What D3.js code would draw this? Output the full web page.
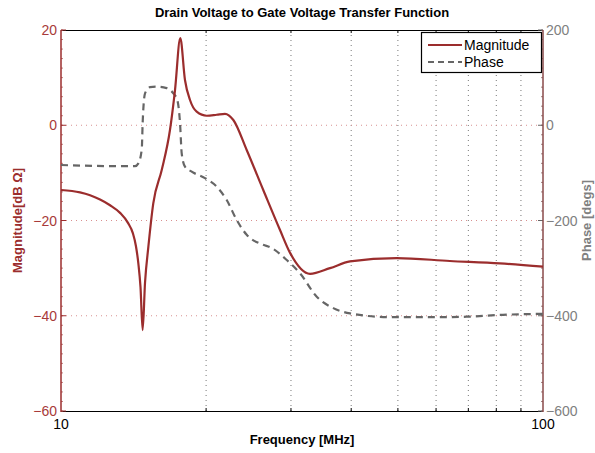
<!DOCTYPE html>
<html>
<head>
<meta charset="utf-8">
<script src="https://cdn.jsdelivr.net/npm/d3@7"></script>
<style>
  body { margin: 0; background: #fff; }
  svg text { font-family: "Liberation Sans", Arial, sans-serif; }
</style>
</head>
<body>
<svg id="chart" width="595" height="453"></svg>
<script>

// Magnitude trace (frequency in MHz, dB Ohm)
const magFreq = [10, 10.95, 11.49, 12.05, 12.64, 13.26, 13.77, 14.1, 14.3, 14.47, 14.62, 14.77, 14.94, 15.18,
    15.54, 16.18, 16.83, 17.24, 17.68, 18.08, 18.52, 19.12, 20.06, 21.04, 21.89, 22.78, 24.28, 26.28,
    28.47, 29.87, 32.86, 36.15, 39.78, 49.7, 64.1, 81.4, 100];
const magDb = [-13.6, -14.1, -14.7, -15.6, -16.8, -18.4, -20.5, -22.7, -25.3, -29, -34, -43, -33, -25.5,
    -16.4, -9.4, -1, 7.4, 18.3, 9.5, 5.3, 2.85, 2, 2.2, 2.4, 1.1, -5.2, -13.6,
    -22, -26.8, -31.2, -30, -28.6, -27.9, -28.5, -29, -29.7];

// Phase trace (frequency in MHz, degrees)
const phaseFreq = [10, 13.26, 14.24, 14.47, 14.71, 14.77, 14.94, 15.3, 15.8, 16.57, 17.1, 17.43, 17.66,
    17.8, 18.08, 18.67, 19.89, 21.04, 22.07, 23.15, 24.28, 26.28, 27.14, 29.4, 31.33, 33.93, 36.72,
    39.78, 48.15, 59.21, 69.45, 82.6, 100];
const phaseDeg = [-83.5, -86, -86, -80, -50, 4, 67, 80, 81, 78, 67, 53, 4,
    -59, -87, -97.5, -111, -129, -157, -199, -230, -251, -256, -283, -311, -360, -384,
    -395, -403, -403, -402, -398, -396];

const xTicks = [10, 100];
const magTicks = [20, 0, -20, -40, -60];
const phaseTicks = [200, 0, -200, -400, -600];
const legendLabels = ['Magnitude', 'Phase'];

const magColor = '#9b2d2d';
const phaseColor = '#666666';

const svg = d3.select('#chart');
const margin = {left: 61, right: 52, top: 30, bottom: 42};
const W = 595, H = 453;
const x0 = margin.left, x1 = W - margin.right;
const y0 = margin.top, y1 = H - margin.bottom;

const x = d3.scaleLog().domain([10, 100]).range([x0, x1]);
const yMag = d3.scaleLinear().domain([-60, 20]).range([y1, y0]);
const yPh = d3.scaleLinear().domain([-600, 200]).range([y1, y0]);

// Grid lines
const minorX = d3.range(20, 100, 10);
svg.append('g')
    .selectAll('line')
    .data(minorX)
    .join('line')
    .attr('x1', d => x(d)).attr('x2', d => x(d))
    .attr('y1', y0).attr('y2', y1)
    .attr('stroke', '#777')
    .attr('stroke-width', 1)
    .attr('stroke-dasharray', '1,4');

svg.append('g')
    .selectAll('line')
    .data(magTicks.filter(d => d > -60 && d < 20))
    .join('line')
    .attr('x1', x0).attr('x2', x1)
    .attr('y1', d => yMag(d)).attr('y2', d => yMag(d))
    .attr('stroke', '#d89090')
    .attr('stroke-width', 1)
    .attr('stroke-dasharray', '1,4');

// Frame top/bottom
svg.append('line').attr('x1', x0).attr('x2', x1).attr('y1', y0 + 0.5).attr('y2', y0 + 0.5)
    .attr('stroke', '#000').attr('stroke-width', 1.2);
svg.append('line').attr('x1', x0).attr('x2', x1).attr('y1', y1 + 0.5).attr('y2', y1 + 0.5)
    .attr('stroke', '#000').attr('stroke-width', 1.2);

// X ticks (inward, bottom and top)
minorX.forEach(d => {
    svg.append('line').attr('x1', x(d)).attr('x2', x(d)).attr('y1', y1).attr('y2', y1 - 3)
        .attr('stroke', '#000');
    svg.append('line').attr('x1', x(d)).attr('x2', x(d)).attr('y1', y0).attr('y2', y0 + 3)
        .attr('stroke', '#000');
});

// Y minor ticks
d3.range(-60, 21, 2).forEach(d => {
    svg.append('line').attr('x1', x0).attr('x2', x0 + 2).attr('y1', yMag(d)).attr('y2', yMag(d))
        .attr('stroke', '#c08080');
});
d3.range(-600, 201, 20).forEach(d => {
    svg.append('line').attr('x1', x1).attr('x2', x1 - 2).attr('y1', yPh(d)).attr('y2', yPh(d))
        .attr('stroke', '#a08080');
});
magTicks.forEach(d => {
    svg.append('line').attr('x1', x0).attr('x2', x0 + 5).attr('y1', yMag(d)).attr('y2', yMag(d))
        .attr('stroke', magColor);
});
phaseTicks.forEach(d => {
    svg.append('line').attr('x1', x1).attr('x2', x1 - 5).attr('y1', yPh(d)).attr('y2', yPh(d))
        .attr('stroke', phaseColor);
});

// Left and right axis lines
svg.append('line').attr('x1', x0).attr('x2', x0).attr('y1', y0).attr('y2', y1 + 1)
    .attr('stroke', magColor).attr('stroke-width', 1.5);
svg.append('line').attr('x1', x1).attr('x2', x1).attr('y1', y0).attr('y2', y1 + 1)
    .attr('stroke', '#8a4a4a').attr('stroke-width', 1.5);

// Curves
const magData = magFreq.map((f, i) => [f, magDb[i]]);
const phData = phaseFreq.map((f, i) => [f, phaseDeg[i]]);

svg.append('path')
    .datum(phData)
    .attr('fill', 'none')
    .attr('stroke', phaseColor)
    .attr('stroke-width', 2.2)
    .attr('stroke-dasharray', '7,5')
    .attr('d', d3.line().x(d => x(d[0])).y(d => yPh(d[1])).curve(d3.curveMonotoneX));

svg.append('path')
    .datum(magData)
    .attr('fill', 'none')
    .attr('stroke', magColor)
    .attr('stroke-width', 2.2)
    .attr('d', d3.line().x(d => x(d[0])).y(d => yMag(d[1])).curve(d3.curveMonotoneX));

// Tick labels
const fmt = d => (d < 0 ? '\u2212' + Math.abs(d) : '' + d);
svg.append('g').selectAll('text').data(magTicks).join('text')
    .attr('x', x0 - 4).attr('y', d => yMag(d) + 5)
    .attr('text-anchor', 'end')
    .attr('font-size', 14).attr('fill', '#a83a3a')
    .text(fmt);
svg.append('g').selectAll('text').data(phaseTicks).join('text')
    .attr('x', x1 + 3).attr('y', d => yPh(d) + 5)
    .attr('text-anchor', 'start')
    .attr('font-size', 14).attr('fill', '#808080')
    .text(fmt);
svg.append('g').selectAll('text').data(xTicks).join('text')
    .attr('x', d => x(d)).attr('y', y1 + 18)
    .attr('text-anchor', 'middle')
    .attr('font-size', 14).attr('fill', '#000')
    .text(d => d);

// Titles
svg.append('text').attr('x', 302).attr('y', 17)
    .attr('text-anchor', 'middle').attr('font-size', 13).attr('font-weight', 'bold')
    .text('Drain Voltage to Gate Voltage Transfer Function');
svg.append('text').attr('x', 302).attr('y', 444)
    .attr('text-anchor', 'middle').attr('font-size', 13).attr('font-weight', 'bold')
    .text('Frequency [MHz]');
svg.append('text')
    .attr('transform', `translate(22,${(y0 + y1) / 2}) rotate(-90)`)
    .attr('text-anchor', 'middle').attr('font-size', 13).attr('font-weight', 'bold')
    .attr('fill', magColor)
    .text('Magnitude[dB \u03a9]');
svg.append('text')
    .attr('transform', `translate(591,${(y0 + y1) / 2}) rotate(-90)`)
    .attr('text-anchor', 'middle').attr('font-size', 13).attr('font-weight', 'bold')
    .attr('fill', '#808080')
    .text('Phase [degs]');

// Legend
const lg = svg.append('g').attr('transform', 'translate(421,32)');
lg.append('rect').attr('x', 0.5).attr('y', 0.5).attr('width', 120).attr('height', 40)
    .attr('fill', '#fff').attr('stroke', '#000').attr('stroke-width', 1.2);
legendLabels.forEach((name, i) => {
    const yy = 13 + i * 17;
    lg.append('line').attr('x1', 7).attr('x2', 41).attr('y1', yy).attr('y2', yy)
        .attr('stroke', i === 0 ? magColor : phaseColor)
        .attr('stroke-width', 2)
        .attr('stroke-dasharray', i === 0 ? null : '6,4');
    lg.append('text').attr('x', 43).attr('y', yy + 5)
        .attr('font-size', 14).attr('fill', '#000')
        .text(name);
});
</script>
</body>
</html>
